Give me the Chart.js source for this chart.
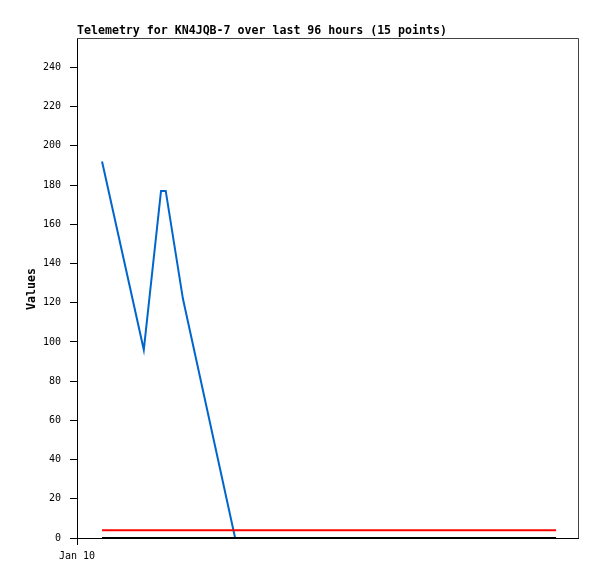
<!DOCTYPE html>
<html>
<head>
<meta charset="utf-8">
<script src="https://cdn.jsdelivr.net/npm/chart.js@4/dist/chart.umd.min.js"></script>
<style>
  html, body { margin: 0; padding: 0; background: #fff; }
  #wrap { width: 597px; height: 579px; }
</style>
</head>
<body>
<div id="wrap"><canvas id="telemetryChart" width="597" height="579"></canvas></div>
<script>
// hours since Jan 10 00:00 for each telemetry packet (15 points)
const hours = [4.8, 12.8, 16.1, 17.0, 20.3, 30.3, 38.0, 46.0, 54.0, 60.0, 66.0, 72.0, 78.0, 85.0, 91.8];
const channelA = [192, 96, 177, 177, 122, 0, 0, 0, 0, 0, 0, 0, 0, 0, 0];
const channelB = [4, 4, 4, 4, 4, 4, 4, 4, 4, 4, 4, 4, 4, 4, 4];
const channelC = [0, 0, 0, 0, 0, 0, 0, 0, 0, 0, 0, 0, 0, 0, 0];
const xTickLabels = ['Jan 10'];
const yTicks = [0, 20, 40, 60, 80, 100, 120, 140, 160, 180, 200, 220, 240];
const chartTitle = 'Telemetry for KN4JQB-7 over last 96 hours (15 points)';
const yTitle = 'Values';

const toPoints = vals => vals.map((v, i) => ({ x: hours[i], y: v }));

// frame + title + y axis title
const decorations = {
    id: 'decorations',
    beforeDatasetsDraw(chart) {
        const { ctx, chartArea: a } = chart;
        ctx.save();
        ctx.strokeStyle = '#444';
        ctx.lineWidth = 1;
        ctx.beginPath();
        ctx.moveTo(a.left, a.top + 0.5);
        ctx.lineTo(a.right + 0.5, a.top + 0.5);
        ctx.lineTo(a.right + 0.5, a.bottom);
        ctx.stroke();
        ctx.restore();
    },
    afterDraw(chart) {
        const { ctx, chartArea: a } = chart;
        ctx.save();
        ctx.fillStyle = '#000';
        ctx.font = 'bold 11.6px "DejaVu Sans Mono"';
        ctx.textAlign = 'left';
        ctx.textBaseline = 'alphabetic';
        ctx.fillText(chartTitle, a.left, 34);

        ctx.translate(32, (a.top + a.bottom) / 2 + 1);
        ctx.rotate(-Math.PI / 2);
        ctx.textAlign = 'center';
        ctx.textBaseline = 'middle';
        ctx.fillText(yTitle, 0, 0);
        ctx.restore();
    }
};

const ctx = document.getElementById('telemetryChart').getContext('2d');

new Chart(ctx, {
    type: 'line',
    data: {
        datasets: [
            {
                label: 'Channel C',
                data: toPoints(channelC),
                borderColor: '#000000',
                borderWidth: 2,
                order: 1
            },
            {
                label: 'Channel B',
                data: toPoints(channelB),
                borderColor: '#ff0000',
                borderWidth: 2,
                order: 2
            },
            {
                label: 'Channel A',
                data: toPoints(channelA),
                borderColor: '#0066cc',
                borderWidth: 2,
                order: 3
            }
        ]
    },
    options: {
        responsive: false,
        animation: false,
        events: [],
        elements: {
            point: { radius: 0 },
            line: { tension: 0, fill: false }
        },
        layout: {
            padding: { left: 0, right: 19, top: 38, bottom: 0 }
        },
        plugins: {
            legend: { display: false },
            title: { display: false },
            tooltip: { enabled: false }
        },
        scales: {
            x: {
                type: 'linear',
                min: 0,
                max: 96,
                afterBuildTicks: scale => {
                    scale.ticks = xTickLabels.map((l, i) => ({ value: i * 24 }));
                },
                afterFit: scale => { scale.height = 41; },
                ticks: {
                    color: '#000',
                    font: { family: 'DejaVu Sans Mono', size: 10 },
                    padding: 5,
                    maxRotation: 0,
                    callback: (v, i) => xTickLabels[i]
                },
                grid: {
                    drawOnChartArea: false,
                    drawTicks: true,
                    tickLength: 7,
                    color: '#000'
                },
                border: { display: true, color: '#000', width: 1 }
            },
            y: {
                min: 0,
                max: 255,
                afterBuildTicks: scale => {
                    scale.ticks = yTicks.map(v => ({ value: v }));
                },
                afterFit: scale => { scale.width = 77; },
                ticks: {
                    color: '#000',
                    font: { family: 'DejaVu Sans Mono', size: 10 },
                    padding: 9
                },
                grid: {
                    drawOnChartArea: false,
                    drawTicks: true,
                    tickLength: 7,
                    color: '#000'
                },
                border: { display: true, color: '#000', width: 1 }
            }
        }
    },
    plugins: [decorations]
});
</script>
</body>
</html>
